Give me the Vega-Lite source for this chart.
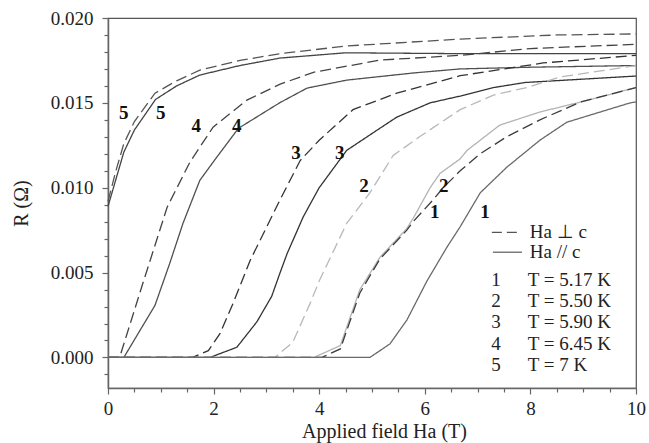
{
  "$schema": "https://vega.github.io/schema/vega-lite/v6.json",
  "width": 528,
  "height": 370,
  "autosize": "none",
  "padding": {"left": 108, "top": 18, "right": 13, "bottom": 55},
  "background": "white",
  "config": {
    "view": {"stroke": "#555", "strokeWidth": 1.2},
    "font": "Liberation Serif",
    "axis": {"domainColor": "#666", "domainWidth": 1.5, "tickColor": "#666", "tickWidth": 1.2, "labelColor": "#222", "titleColor": "#222", "labelFont": "Liberation Serif", "titleFont": "Liberation Serif", "labelFontSize": 19, "titleFontSize": 20, "titleFontWeight": "normal", "grid": false, "labelOverlap": false, "labelFlush": false}
  },
  "datasets": {
    "curves": [
      {"c":"5 par","o":"par","H":0,"R":0.0089},{"c":"5 par","o":"par","H":0.15,"R":0.0105},{"c":"5 par","o":"par","H":0.3,"R":0.0121},{"c":"5 par","o":"par","H":0.5,"R":0.0134},{"c":"5 par","o":"par","H":0.9,"R":0.0152},{"c":"5 par","o":"par","H":1.3,"R":0.016},{"c":"5 par","o":"par","H":1.74,"R":0.01664},{"c":"5 par","o":"par","H":2.5,"R":0.0172},{"c":"5 par","o":"par","H":3.26,"R":0.01764},{"c":"5 par","o":"par","H":4.5,"R":0.01795},{"c":"5 par","o":"par","H":6.67,"R":0.0179},{"c":"5 par","o":"par","H":10,"R":0.0179},
      {"c":"5 perp","o":"perp","H":0,"R":0.0092},{"c":"5 perp","o":"perp","H":0.15,"R":0.011},{"c":"5 perp","o":"perp","H":0.3,"R":0.0126},{"c":"5 perp","o":"perp","H":0.5,"R":0.0139},{"c":"5 perp","o":"perp","H":0.89,"R":0.01557},{"c":"5 perp","o":"perp","H":1.3,"R":0.0163},{"c":"5 perp","o":"perp","H":1.74,"R":0.01693},{"c":"5 perp","o":"perp","H":2.5,"R":0.0175},{"c":"5 perp","o":"perp","H":3.26,"R":0.0179},{"c":"5 perp","o":"perp","H":4.52,"R":0.01835},{"c":"5 perp","o":"perp","H":6.67,"R":0.01876},{"c":"5 perp","o":"perp","H":8.5,"R":0.019},{"c":"5 perp","o":"perp","H":10,"R":0.01906},
      {"c":"4 perp","o":"perp","H":0,"R":0},{"c":"4 perp","o":"perp","H":0.22,"R":0},{"c":"4 perp","o":"perp","H":0.66,"R":0.00437},{"c":"4 perp","o":"perp","H":1.12,"R":0.00885},{"c":"4 perp","o":"perp","H":1.55,"R":0.0115},{"c":"4 perp","o":"perp","H":1.99,"R":0.01357},{"c":"4 perp","o":"perp","H":2.63,"R":0.01516},{"c":"4 perp","o":"perp","H":3.26,"R":0.0161},{"c":"4 perp","o":"perp","H":3.89,"R":0.0168},{"c":"4 perp","o":"perp","H":5.15,"R":0.01752},{"c":"4 perp","o":"perp","H":6.67,"R":0.0178},{"c":"4 perp","o":"perp","H":8,"R":0.0182},{"c":"4 perp","o":"perp","H":10,"R":0.01845},
      {"c":"4 par","o":"par","H":0,"R":0},{"c":"4 par","o":"par","H":0.3,"R":0},{"c":"4 par","o":"par","H":0.89,"R":0.00307},{"c":"4 par","o":"par","H":1.17,"R":0.00555},{"c":"4 par","o":"par","H":1.42,"R":0.0079},{"c":"4 par","o":"par","H":1.74,"R":0.01044},{"c":"4 par","o":"par","H":2.06,"R":0.0118},{"c":"4 par","o":"par","H":2.47,"R":0.0135},{"c":"4 par","o":"par","H":3.26,"R":0.01502},{"c":"4 par","o":"par","H":3.77,"R":0.01587},{"c":"4 par","o":"par","H":4.52,"R":0.01634},{"c":"4 par","o":"par","H":5.78,"R":0.01676},{"c":"4 par","o":"par","H":6.67,"R":0.017},{"c":"4 par","o":"par","H":8,"R":0.0171},{"c":"4 par","o":"par","H":10,"R":0.0172},
      {"c":"3 perp","o":"perp","H":0,"R":0},{"c":"3 perp","o":"perp","H":1.6,"R":0},{"c":"3 perp","o":"perp","H":1.9,"R":0.0004},{"c":"3 perp","o":"perp","H":2.12,"R":0.0014},{"c":"3 perp","o":"perp","H":2.37,"R":0.0032},{"c":"3 perp","o":"perp","H":2.69,"R":0.0057},{"c":"3 perp","o":"perp","H":3.07,"R":0.0081},{"c":"3 perp","o":"perp","H":3.26,"R":0.0093},{"c":"3 perp","o":"perp","H":3.64,"R":0.0116},{"c":"3 perp","o":"perp","H":4.0,"R":0.0128},{"c":"3 perp","o":"perp","H":4.64,"R":0.0146},{"c":"3 perp","o":"perp","H":5.47,"R":0.01557},{"c":"3 perp","o":"perp","H":6.67,"R":0.0166},{"c":"3 perp","o":"perp","H":8.24,"R":0.01735},{"c":"3 perp","o":"perp","H":10,"R":0.0178},
      {"c":"3 par","o":"par","H":0,"R":0},{"c":"3 par","o":"par","H":1.93,"R":0},{"c":"3 par","o":"par","H":2.44,"R":0.0006},{"c":"3 par","o":"par","H":2.82,"R":0.0021},{"c":"3 par","o":"par","H":3.1,"R":0.0036},{"c":"3 par","o":"par","H":3.26,"R":0.005},{"c":"3 par","o":"par","H":3.39,"R":0.0061},{"c":"3 par","o":"par","H":3.7,"R":0.0083},{"c":"3 par","o":"par","H":4.0,"R":0.01},{"c":"3 par","o":"par","H":4.52,"R":0.0122},{"c":"3 par","o":"par","H":5.1,"R":0.0134},{"c":"3 par","o":"par","H":5.47,"R":0.01416},{"c":"3 par","o":"par","H":6.1,"R":0.015},{"c":"3 par","o":"par","H":6.67,"R":0.0154},{"c":"3 par","o":"par","H":7.3,"R":0.0159},{"c":"3 par","o":"par","H":7.9,"R":0.0162},{"c":"3 par","o":"par","H":10,"R":0.01658},
      {"c":"2 perp","o":"perp","H":0,"R":0},{"c":"2 perp","o":"perp","H":3.16,"R":0},{"c":"2 perp","o":"perp","H":3.5,"R":0.0009},{"c":"2 perp","o":"perp","H":3.83,"R":0.0032},{"c":"2 perp","o":"perp","H":4.0,"R":0.0045},{"c":"2 perp","o":"perp","H":4.26,"R":0.0062},{"c":"2 perp","o":"perp","H":4.52,"R":0.0079},{"c":"2 perp","o":"perp","H":4.96,"R":0.0097},{"c":"2 perp","o":"perp","H":5.4,"R":0.0119},{"c":"2 perp","o":"perp","H":5.9,"R":0.013},{"c":"2 perp","o":"perp","H":6.67,"R":0.0146},{"c":"2 perp","o":"perp","H":7.3,"R":0.01546},{"c":"2 perp","o":"perp","H":7.93,"R":0.0159},{"c":"2 perp","o":"perp","H":8.56,"R":0.01652},{"c":"2 perp","o":"perp","H":10,"R":0.0172},
      {"c":"2 par","o":"par","H":0,"R":0},{"c":"2 par","o":"par","H":3.9,"R":0},{"c":"2 par","o":"par","H":4.4,"R":0.0007},{"c":"2 par","o":"par","H":4.77,"R":0.004},{"c":"2 par","o":"par","H":5.15,"R":0.0059},{"c":"2 par","o":"par","H":5.66,"R":0.0076},{"c":"2 par","o":"par","H":5.78,"R":0.0082},{"c":"2 par","o":"par","H":6.1,"R":0.01},{"c":"2 par","o":"par","H":6.29,"R":0.01085},{"c":"2 par","o":"par","H":6.67,"R":0.0117},{"c":"2 par","o":"par","H":6.8,"R":0.0122},{"c":"2 par","o":"par","H":7.42,"R":0.01369},{"c":"2 par","o":"par","H":8.18,"R":0.01446},{"c":"2 par","o":"par","H":8.56,"R":0.01475},{"c":"2 par","o":"par","H":8.94,"R":0.01504},{"c":"2 par","o":"par","H":10,"R":0.0159},
      {"c":"1 perp","o":"perp","H":0,"R":0},{"c":"1 perp","o":"perp","H":4.05,"R":0},{"c":"1 perp","o":"perp","H":4.4,"R":0.0005},{"c":"1 perp","o":"perp","H":4.77,"R":0.0038},{"c":"1 perp","o":"perp","H":5.15,"R":0.0058},{"c":"1 perp","o":"perp","H":5.66,"R":0.0075},{"c":"1 perp","o":"perp","H":5.78,"R":0.008},{"c":"1 perp","o":"perp","H":6.16,"R":0.0093},{"c":"1 perp","o":"perp","H":6.35,"R":0.01},{"c":"1 perp","o":"perp","H":6.67,"R":0.011},{"c":"1 perp","o":"perp","H":7.05,"R":0.012},{"c":"1 perp","o":"perp","H":7.55,"R":0.013},{"c":"1 perp","o":"perp","H":8.18,"R":0.014},{"c":"1 perp","o":"perp","H":8.94,"R":0.01504},{"c":"1 perp","o":"perp","H":10,"R":0.0159},
      {"c":"1 par","o":"par","H":0,"R":0},{"c":"1 par","o":"par","H":4.96,"R":0},{"c":"1 par","o":"par","H":5.34,"R":0.0008},{"c":"1 par","o":"par","H":5.66,"R":0.0022},{"c":"1 par","o":"par","H":6.04,"R":0.0045},{"c":"1 par","o":"par","H":6.42,"R":0.0065},{"c":"1 par","o":"par","H":6.67,"R":0.0077},{"c":"1 par","o":"par","H":7.05,"R":0.0097},{"c":"1 par","o":"par","H":7.55,"R":0.0112},{"c":"1 par","o":"par","H":8.18,"R":0.0128},{"c":"1 par","o":"par","H":8.69,"R":0.01386},{"c":"1 par","o":"par","H":9.89,"R":0.015},{"c":"1 par","o":"par","H":10,"R":0.01506}
    ],
    "labels": [
      {"t":"5","H":0.3,"R":0.0144},{"t":"5","H":1.0,"R":0.0144},
      {"t":"4","H":1.67,"R":0.01363},{"t":"4","H":2.44,"R":0.01363},
      {"t":"3","H":3.56,"R":0.01204},{"t":"3","H":4.39,"R":0.01204},
      {"t":"2","H":4.85,"R":0.01009},{"t":"2","H":6.36,"R":0.01009},
      {"t":"1","H":6.19,"R":0.00855},{"t":"1","H":7.14,"R":0.00855}
    ],
    "keyDash": [{"H":7.27,"H2":7.8,"R":0.00737}],
    "keySolid": [{"H":7.29,"H2":7.84,"R":0.0062}],
    "keyText": [
      {"t":"Ha  ⊥ c","H":7.99,"R":0.00737},
      {"t":"Ha  // c","H":7.99,"R":0.0062},
      {"t":"T = 5.17 K","H":7.95,"R":0.00454},
      {"t":"T = 5.50 K","H":7.95,"R":0.0033},
      {"t":"T = 5.90 K","H":7.95,"R":0.00206},
      {"t":"T = 6.45 K","H":7.95,"R":0.00077},
      {"t":"T = 7 K","H":7.95,"R":-0.00047}
    ],
    "keyNum": [
      {"t":"1","H":7.35,"R":0.00454},
      {"t":"2","H":7.35,"R":0.0033},
      {"t":"3","H":7.35,"R":0.00206},
      {"t":"4","H":7.35,"R":0.00077},
      {"t":"5","H":7.35,"R":-0.00047}
    ]
  },
  "layer": [
    {
      "data": {"name": "curves"},
      "mark": {"type": "line", "strokeWidth": 1.3},
      "encoding": {
        "x": {"field": "H", "type": "quantitative", "scale": {"domain": [0, 10], "nice": false},
          "axis": {"title": "Applied field Ha (T)", "tickCount": 200, "values": [0,0.5,1,1.5,2,2.5,3,3.5,4,4.5,5,5.5,6,6.5,7,7.5,8,8.5,9,9.5,10],
            "labelExpr": "datum.value % 2 === 0 ? format(datum.value, 'd') : ''",
            "tickSize": {"condition": {"test": "datum.value % 2 === 0", "value": 6}, "value": 4},
            "labelPadding": 5, "titleX": 276, "titleY": 49, "titleBaseline": "alphabetic", "titleAnchor": "middle"}},
        "y": {"field": "R", "type": "quantitative", "scale": {"domain": [-0.0018, 0.02], "nice": false, "zero": false},
          "axis": {"title": "R (Ω)", "tickCount": 200, "values": [-0.001,0,0.001,0.002,0.003,0.004,0.005,0.006,0.007,0.008,0.009,0.01,0.011,0.012,0.013,0.014,0.015,0.016,0.017,0.018,0.019,0.02],
            "labelExpr": "abs(round(datum.value*1000)) % 5 === 0 ? format(datum.value, '.3f') : ''",
            "tickSize": {"condition": {"test": "abs(round(datum.value*1000)) % 5 === 0", "value": 6}, "value": 4},
            "labelPadding": 9, "titlePadding": 19}},
        "detail": {"field": "c"},
        "color": {"field": "c", "type": "nominal", "legend": null,
          "scale": {"domain": ["1 perp","1 par","2 perp","2 par","3 perp","3 par","4 perp","4 par","5 perp","5 par"],
            "range": ["#3c3c3c","#6a6a6a","#b8b8b8","#b3b3b3","#333333","#333333","#444444","#505050","#555555","#444444"]}},
        "strokeDash": {"field": "o", "type": "nominal", "legend": null,
          "scale": {"domain": ["perp","par"], "range": [[11,5],[1,0]]}}
      }
    },
    {
      "data": {"name": "labels"},
      "mark": {"type": "text", "font": "Liberation Serif", "fontSize": 19, "fontWeight": "bold", "color": "#111", "align": "center", "baseline": "middle"},
      "encoding": {
        "x": {"field": "H", "type": "quantitative"},
        "y": {"field": "R", "type": "quantitative"},
        "text": {"field": "t"}
      }
    },
    {
      "data": {"name": "keyDash"},
      "mark": {"type": "rule", "strokeDash": [10, 5], "color": "#555", "strokeWidth": 1.3},
      "encoding": {
        "x": {"field": "H", "type": "quantitative"},
        "x2": {"field": "H2"},
        "y": {"field": "R", "type": "quantitative"}
      }
    },
    {
      "data": {"name": "keySolid"},
      "mark": {"type": "rule", "color": "#666", "strokeWidth": 1.3},
      "encoding": {
        "x": {"field": "H", "type": "quantitative"},
        "x2": {"field": "H2"},
        "y": {"field": "R", "type": "quantitative"}
      }
    },
    {
      "data": {"name": "keyText"},
      "mark": {"type": "text", "font": "Liberation Serif", "fontSize": 19, "color": "#222", "align": "left", "baseline": "middle"},
      "encoding": {
        "x": {"field": "H", "type": "quantitative"},
        "y": {"field": "R", "type": "quantitative"},
        "text": {"field": "t"}
      }
    },
    {
      "data": {"name": "keyNum"},
      "mark": {"type": "text", "font": "Liberation Serif", "fontSize": 19, "color": "#222", "align": "center", "baseline": "middle"},
      "encoding": {
        "x": {"field": "H", "type": "quantitative"},
        "y": {"field": "R", "type": "quantitative"},
        "text": {"field": "t"}
      }
    }
  ]
}
